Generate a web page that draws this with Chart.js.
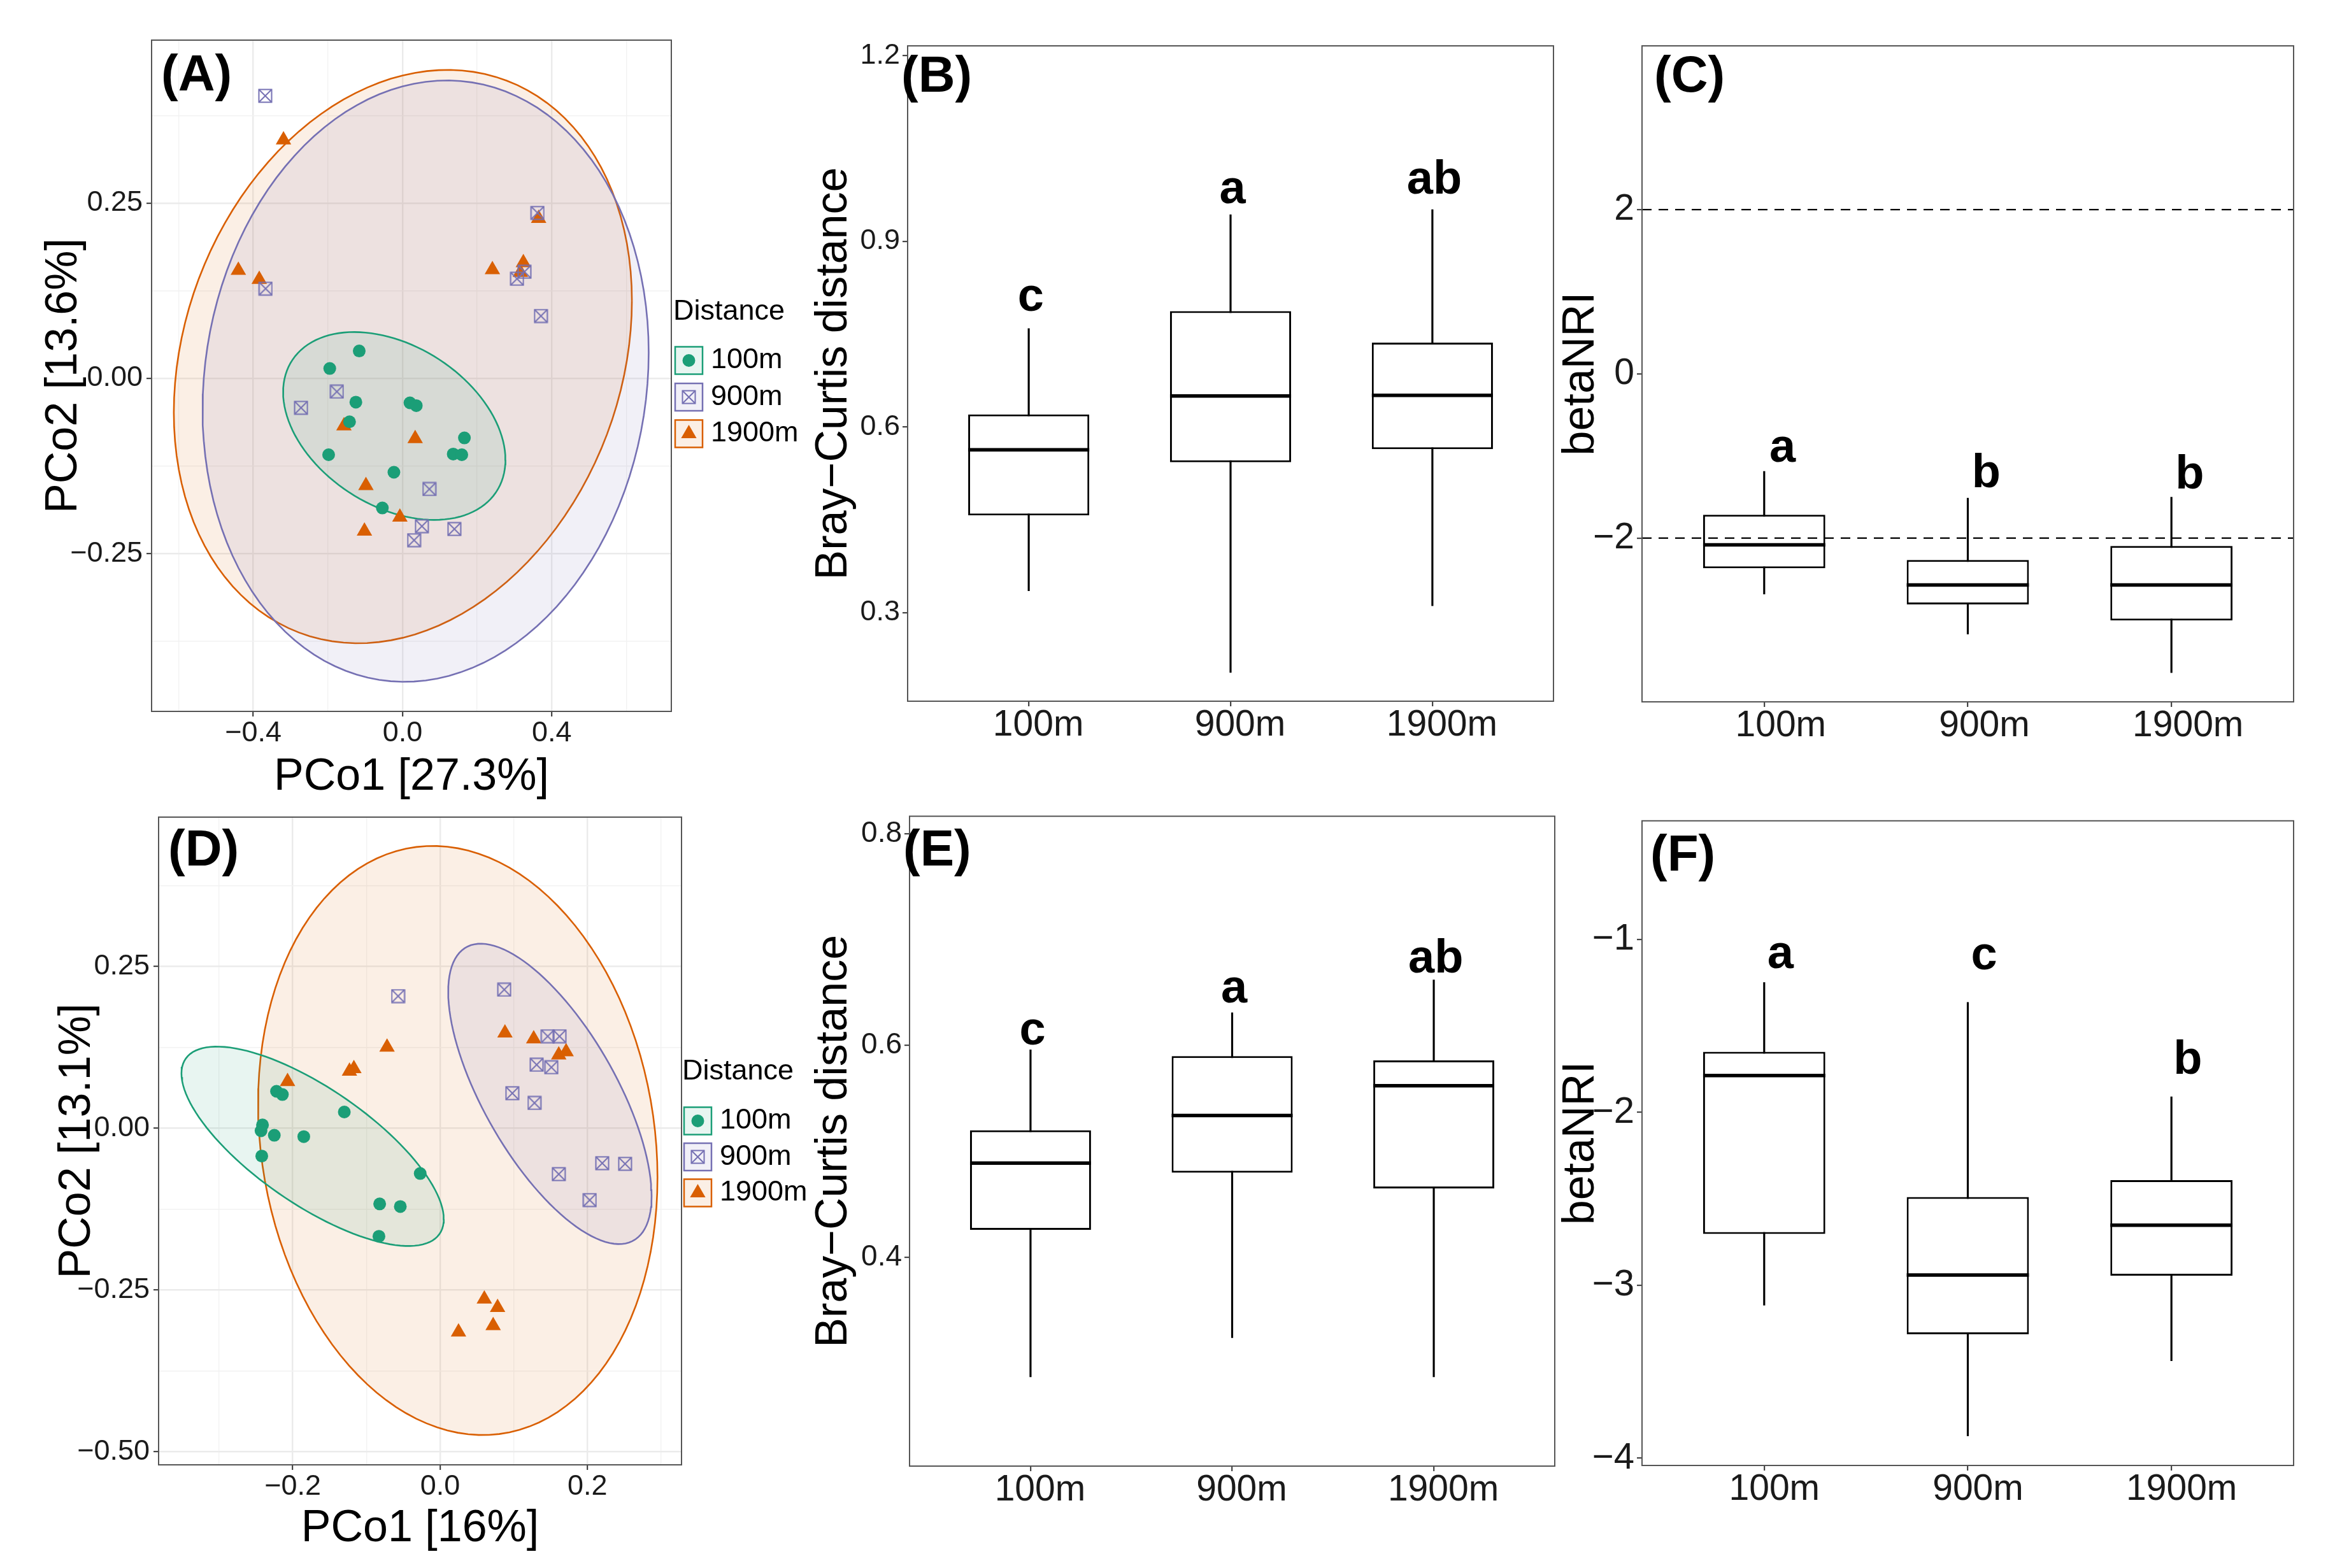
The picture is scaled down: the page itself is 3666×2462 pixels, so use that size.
<!DOCTYPE html>
<html>
<head>
<meta charset="utf-8">
<title>PCoA and beta diversity by distance</title>
<script src="https://cdn.jsdelivr.net/npm/chart.js@4.4.1/dist/chart.umd.min.js"></script>
<style>
  html, body { margin: 0; padding: 0; background: #fff; }
  #fig { position: relative; width: 3666px; height: 2462px; background: #fff; overflow: hidden; }
  #fig canvas { position: absolute; }
</style>
</head>
<body>
<div id="fig">
  <canvas id="panel-a"></canvas>
  <canvas id="panel-d"></canvas>
  <canvas id="panel-b"></canvas>
  <canvas id="panel-c"></canvas>
  <canvas id="panel-e"></canvas>
  <canvas id="panel-f"></canvas>
</div>
<script>
const FONT = '"Liberation Sans", Arial, Helvetica, sans-serif';
const M = '\u2212';

// groups
const groups = ['100m', '900m', '1900m'];
const groupColors = ['#1b9e77', '#7570b3', '#d95f02'];

// ---- (A) PCoA, upper row
const a100x = [-0.116, -0.195, -0.125, -0.142, -0.198, 0.020, 0.037, 0.166, 0.136, 0.159, -0.023, -0.054];
const a100y = [0.039, 0.014, -0.034, -0.062, -0.109, -0.035, -0.039, -0.085, -0.108, -0.109, -0.134, -0.185];
const a900x = [-0.368, -0.367, -0.176, -0.272, 0.362, 0.327, 0.307, 0.371, 0.072, 0.052, 0.139, 0.031];
const a900y = [0.403, 0.128, -0.019, -0.042, 0.236, 0.152, 0.142, 0.089, -0.158, -0.211, -0.215, -0.231];
const a1900x = [-0.319, -0.440, -0.384, 0.365, 0.241, 0.324, 0.316, -0.157, 0.034, -0.098, -0.102, -0.007];
const a1900y = [0.340, 0.154, 0.141, 0.228, 0.155, 0.165, 0.151, -0.068, -0.086, -0.153, -0.218, -0.198];
// ellipse centre, half extents and x/y coupling, per group
const aEllCx = [-0.022, 0.062, 0.001];
const aEllCy = [-0.068, -0.004, 0.031];
const aEllRx = [0.298, 0.598, 0.614];
const aEllRy = [0.134, 0.429, 0.409];
const aEllRho = [-0.36, 0.095, 0.195];
const aXRange = [-0.6726, 0.7207];
const aYRange = [-0.4752, 0.4825];
const aXTicks = [-0.4, 0, 0.4];
const aXLabels = [M + '0.4', '0.0', '0.4'];
const aXMinor = [-0.6, -0.2, 0.2, 0.6];
const aYTicks = [-0.25, 0, 0.25];
const aYLabels = [M + '0.25', '0.00', '0.25'];
const aYMinor = [-0.375, -0.125, 0.125, 0.375];

// ---- (D) PCoA, lower row
const d100x = [-0.222, -0.214, -0.241, -0.243, -0.225, -0.185, -0.242, -0.130, -0.027, -0.082, -0.054, -0.083];
const d100y = [0.057, 0.052, 0.005, -0.004, -0.011, -0.013, -0.043, 0.025, -0.070, -0.117, -0.121, -0.167];
const d900x = [-0.057, 0.087, 0.146, 0.162, 0.131, 0.151, 0.098, 0.128, 0.220, 0.251, 0.161, 0.203];
const d900y = [0.204, 0.214, 0.142, 0.142, 0.098, 0.094, 0.054, 0.039, -0.054, -0.055, -0.071, -0.111];
const d1900x = [-0.207, -0.123, -0.117, -0.072, 0.088, 0.127, 0.161, 0.171, 0.060, 0.078, 0.072, 0.025];
const d1900y = [0.072, 0.088, 0.092, 0.125, 0.147, 0.138, 0.113, 0.118, -0.264, -0.277, -0.305, -0.315];
const dEllCx = [-0.173, 0.149, 0.024];
const dEllCy = [-0.028, 0.053, -0.019];
const dEllRx = [0.178, 0.138, 0.271];
const dEllRy = [0.154, 0.232, 0.455];
const dEllRho = [-0.73, -0.68, -0.125];
const dXRange = [-0.382, 0.3276];
const dYRange = [-0.520, 0.4805];
const dXTicks = [-0.2, 0, 0.2];
const dXLabels = [M + '0.2', '0.0', '0.2'];
const dXMinor = [-0.3, -0.1, 0.1, 0.3];
const dYTicks = [-0.5, -0.25, 0, 0.25];
const dYLabels = [M + '0.50', M + '0.25', '0.00', '0.25'];
const dYMinor = [-0.375, -0.125, 0.125, 0.375];

// ---- (B) Bray-Curtis distance, upper row
const bLow = [0.335, 0.203, 0.311];
const bQ1 = [0.457, 0.543, 0.564];
const bMed = [0.563, 0.650, 0.651];
const bQ3 = [0.620, 0.787, 0.736];
const bHigh = [0.759, 0.943, 0.951];
const bLetters = ['c', 'a', 'ab'];
const bLetterY = [0.788, 0.961, 0.977];
const bYRange = [0.1567, 1.2157];
const bYTicks = [0.3, 0.6, 0.9, 1.2];
const bYLabels = ['0.3', '0.6', '0.9', '1.2'];

// ---- (C) betaNRI, upper row
const cLow = [-2.682, -3.169, -3.638];
const cQ1 = [-2.368, -2.807, -3.003];
const cMed = [-2.083, -2.570, -2.570];
const cQ3 = [-1.715, -2.267, -2.095];
const cHigh = [-1.187, -1.513, -1.501];
const cLetters = ['a', 'b', 'b'];
const cLetterY = [-1.068, -1.383, -1.395];
const cRefLines = [2, -2];
const cYRange = [-3.994, 3.994];
const cYTicks = [-2, 0, 2];
const cYLabels = [M + '2', '0', '2'];

// ---- (E) Bray-Curtis distance, lower row
const eLow = [0.287, 0.324, 0.287];
const eQ1 = [0.426, 0.480, 0.465];
const eMed = [0.489, 0.534, 0.562];
const eQ3 = [0.520, 0.590, 0.586];
const eHigh = [0.596, 0.631, 0.662];
const eLetters = ['c', 'a', 'ab'];
const eLetterY = [0.601, 0.641, 0.669];
const eYRange = [0.2028, 0.8166];
const eYTicks = [0.4, 0.6, 0.8];
const eYLabels = ['0.4', '0.6', '0.8'];

// ---- (F) betaNRI, lower row
const fLow = [-3.115, -3.871, -3.437];
const fQ1 = [-2.703, -3.283, -2.944];
const fMed = [-1.787, -2.941, -2.653];
const fQ3 = [-1.650, -2.490, -2.392];
const fHigh = [-1.249, -1.364, -1.910];
const fLetters = ['a', 'c', 'b'];
const fLetterY = [-1.165, -1.174, -1.776];
const fYRange = [-4.042, -0.314];
const fYTicks = [-4, -3, -2, -1];
const fYLabels = [M + '4', M + '3', M + '2', M + '1'];

// discrete axis: groups at 1..3, ggplot expansion
const boxXRange = [0.4, 3.6];
const BOX_W = 0.6;

const TITLE_SIZE = 70;
const ELLIPSE_STEPS = 120;
const GRID_MAJOR = '#ebebeb';
const GRID_MINOR = '#f2f2f2';

Chart.defaults.font.family = FONT;

function tint(hex, a) {
  const n = parseInt(hex.slice(1), 16);
  return 'rgba(' + (n >> 16) + ',' + ((n >> 8) & 255) + ',' + (n & 255) + ',' + a + ')';
}

// ggplot shape 7: square with a cross
function squareCross(size, color, lw) {
  const c = document.createElement('canvas');
  c.width = size; c.height = size;
  const g = c.getContext('2d');
  g.strokeStyle = color; g.lineWidth = lw;
  const p = lw / 2 + 0.5;
  g.strokeRect(p, p, size - 2 * p, size - 2 * p);
  g.beginPath();
  g.moveTo(p, p); g.lineTo(size - p, size - p);
  g.moveTo(size - p, p); g.lineTo(p, size - p);
  g.stroke();
  return c;
}
const pointStyles = ['circle', squareCross(23, groupColors[1], 2), 'triangle'];
const pointRadii = [10, 11, 14];

function ellipsePoints(cx, cy, rx, ry, rho) {
  const phi = Math.acos(rho);
  const pts = [];
  for (let i = 0; i <= ELLIPSE_STEPS; i++) {
    const t = 2 * Math.PI * i / ELLIPSE_STEPS;
    pts.push({ x: cx + rx * Math.cos(t), y: cy + ry * Math.cos(t - phi) });
  }
  return pts;
}

function placeCanvas(id, box) {
  const c = document.getElementById(id);
  c.width = box.w; c.height = box.h;
  c.style.left = box.x + 'px'; c.style.top = box.y + 'px';
  c.style.width = box.w + 'px'; c.style.height = box.h + 'px';
  return c.getContext('2d');
}

function valueAxis(o) {
  const horizontal = o.position === 'bottom';
  const list = o.majors.map((v, i) => ({ value: v, text: o.labels[i] }))
    .concat((o.minors || []).map(v => ({ value: v, minor: true, text: '' })))
    .sort((p, q) => p.value - q.value);
  return {
    type: 'linear', position: o.position, min: o.min, max: o.max, offset: false, beginAtZero: false,
    afterBuildTicks: s => { s.ticks = list.map(t => ({ value: t.value, minor: t.minor, text: t.text })); },
    afterFit: s => { if (horizontal) s.height = o.size; else s.width = o.size; },
    border: { display: false },
    grid: {
      display: true,
      offset: false,
      drawOnChartArea: !!o.grid,
      drawTicks: true,
      tickLength: 8,
      tickWidth: 2,
      tickColor: c => (c.tick && c.tick.minor) ? 'rgba(0,0,0,0)' : '#333',
      color: c => (c.tick && c.tick.minor) ? GRID_MINOR : GRID_MAJOR,
      lineWidth: c => (c.tick && c.tick.minor) ? 1.4 : 2.4
    },
    ticks: {
      autoSkip: false, maxRotation: 0, minRotation: 0,
      padding: o.tickPad, labelOffset: o.labelShift || 0, color: '#1a1a1a',
      font: { family: FONT, size: o.tickSize },
      callback: (v, i, arr) => arr[i].text
    },
    title: o.title ? {
      display: true, text: o.title, color: '#000',
      font: { family: FONT, size: TITLE_SIZE, lineHeight: 1.2 },
      padding: horizontal ? { top: 0, bottom: o.titlePad } : { top: o.titlePad, bottom: 0 }
    } : { display: false }
  };
}

// plugins
const framePlugin = {
  id: 'frame',
  afterDatasetsDraw(chart) {
    const { ctx, chartArea: a } = chart;
    ctx.save();
    ctx.strokeStyle = '#555';
    ctx.lineWidth = 2;
    ctx.strokeRect(a.left, a.top, a.right - a.left, a.bottom - a.top);
    ctx.restore();
  }
};

const tagPlugin = {
  id: 'panelTag',
  afterDraw(chart, args, o) {
    const { ctx, chartArea: a } = chart;
    ctx.save();
    ctx.font = 'bold 80px ' + FONT;
    ctx.fillStyle = '#000';
    ctx.textAlign = 'left';
    ctx.textBaseline = 'middle';
    ctx.fillText(o.text, a.left + o.dx, a.top + o.dy);
    ctx.restore();
  }
};

const letterPlugin = {
  id: 'sigLetters',
  afterDatasetsDraw(chart, args, o) {
    if (!o.letters) return;
    const { ctx, scales } = chart;
    ctx.save();
    ctx.font = 'bold 74px ' + FONT;
    ctx.fillStyle = '#000';
    ctx.textAlign = 'center';
    ctx.textBaseline = 'alphabetic';
    o.letters.forEach((t, i) => {
      ctx.fillText(t, scales.x.getPixelForValue(i + 1 + o.shift), scales.y.getPixelForValue(o.ys[i]));
    });
    ctx.restore();
  }
};

const legendPlugin = {
  id: 'pcoaLegend',
  afterDraw(chart, args, o) {
    const { ctx, chartArea: a } = chart;
    const x0 = a.right + o.dx;
    const key = 43;
    ctx.save();
    ctx.font = '45px ' + FONT;
    ctx.textAlign = 'left';
    ctx.textBaseline = 'middle';
    ctx.fillStyle = '#000';
    ctx.fillText('Distance', x0, a.top + o.titleDy);
    groups.forEach((g, i) => {
      const cy = a.top + o.rowDy + i * o.rowStep;
      const kx = x0 + 3;
      ctx.fillStyle = tint(groupColors[i], 0.1);
      ctx.fillRect(kx, cy - key / 2, key, key);
      ctx.strokeStyle = groupColors[i];
      ctx.lineWidth = 2.5;
      ctx.strokeRect(kx, cy - key / 2, key, key);
      ctx.fillStyle = groupColors[i];
      Chart.helpers.drawPoint(ctx, { pointStyle: pointStyles[i], radius: pointRadii[i], borderWidth: 0, rotation: 0 }, kx + key / 2, cy);
      ctx.fillStyle = '#000';
      ctx.fillText(g, kx + key + 13, cy);
    });
    ctx.restore();
  }
};

function layoutFor(p) {
  return {
    padding: {
      left: 0,
      top: p.area.t - p.canvas.y,
      right: p.canvas.x + p.canvas.w - p.area.r,
      bottom: 0
    }
  };
}

function pcoaChart(p, xs, ys, ell, ax) {
  const ctx = placeCanvas(p.id, p.canvas);
  const datasets = [];
  groups.forEach((g, i) => {
    datasets.push({
      type: 'line',
      label: g + ' ellipse',
      data: ellipsePoints(ell.cx[i], ell.cy[i], ell.rx[i], ell.ry[i], ell.rho[i]),
      borderColor: groupColors[i],
      borderWidth: 2.6,
      backgroundColor: tint(groupColors[i], 0.1),
      fill: 'shape',
      pointRadius: 0,
      tension: 0,
      order: 8 + i
    });
  });
  groups.forEach((g, i) => {
    datasets.push({
      type: 'scatter',
      label: g,
      data: xs[i].map((x, k) => ({ x: x, y: ys[i][k] })),
      pointStyle: pointStyles[i],
      pointRadius: pointRadii[i],
      pointBackgroundColor: groupColors[i],
      pointBorderColor: groupColors[i],
      pointBorderWidth: 0,
      order: i
    });
  });
  const yBox = p.area.l - p.canvas.x;
  const xBox = p.canvas.y + p.canvas.h - p.area.b;
  return new Chart(ctx, {
    type: 'scatter',
    data: { datasets },
    options: {
      responsive: false, animation: false, devicePixelRatio: 1, events: [],
      layout: layoutFor(p),
      scales: {
        x: valueAxis({ position: 'bottom', min: ax.xRange[0], max: ax.xRange[1], majors: ax.xTicks, labels: ax.xLabels, minors: ax.xMinor,
          size: xBox, tickSize: 45, tickPad: 0, grid: true, title: ax.xTitle,
          titlePad: p.canvas.y + p.canvas.h - p.xTitleY - TITLE_SIZE * 0.6 }),
        y: valueAxis({ position: 'left', min: ax.yRange[0], max: ax.yRange[1], majors: ax.yTicks, labels: ax.yLabels, minors: ax.yMinor,
          size: yBox, tickSize: 45, tickPad: 6, grid: true, title: ax.yTitle,
          titlePad: p.yTitleX - p.canvas.x - TITLE_SIZE * 0.6 })
      },
      plugins: {
        legend: { display: false },
        tooltip: { enabled: false },
        panelTag: { text: p.tag, dx: p.tagDx, dy: p.tagDy },
        pcoaLegend: p.legend
      }
    },
    plugins: [framePlugin, tagPlugin, legendPlugin]
  });
}

function boxChart(p, st, ax) {
  const ctx = placeCanvas(p.id, p.canvas);
  const pos = groups.map((g, i) => i + 1);
  const halfBox = c => {
    const s = c.chart.scales.x;
    return s.getPixelForValue(1 + BOX_W / 2) - s.getPixelForValue(1);
  };
  const datasets = [
    {
      type: 'line', label: 'median',
      data: pos.map((x, i) => ({ x: x, y: st.med[i] })),
      showLine: false, pointStyle: 'line', pointRadius: halfBox,
      pointBorderColor: '#000', pointBorderWidth: 5.5, order: 0
    },
    {
      type: 'bar', label: 'IQR',
      data: pos.map((x, i) => ({ x: x, y: [st.q1[i], st.q3[i]] })),
      backgroundColor: '#fff', borderColor: '#000', borderWidth: 3, borderSkipped: false,
      grouped: false, categoryPercentage: 1, barPercentage: BOX_W, order: 1
    },
    {
      type: 'bar', label: 'whiskers',
      data: pos.map((x, i) => ({ x: x, y: [st.lo[i], st.hi[i]] })),
      backgroundColor: '#000', borderWidth: 0, grouped: false, barThickness: 2.5, order: 2
    }
  ];
  (ax.refLines || []).forEach(v => {
    datasets.push({
      type: 'line', label: 'ref ' + v,
      data: [{ x: boxXRange[0], y: v }, { x: boxXRange[1], y: v }],
      borderColor: '#000', borderWidth: 2.4, borderDash: [15, 11], pointRadius: 0, order: -1
    });
  });
  const yBox = p.area.l - p.canvas.x;
  const xBox = p.canvas.y + p.canvas.h - p.area.b;
  return new Chart(ctx, {
    type: 'bar',
    data: { datasets },
    options: {
      responsive: false, animation: false, devicePixelRatio: 1, events: [],
      layout: layoutFor(p),
      scales: {
        x: valueAxis({ position: 'bottom', min: boxXRange[0], max: boxXRange[1], majors: pos, labels: groups,
          size: xBox, tickSize: 57, tickPad: -4, labelShift: p.labelShift, grid: false }),
        y: valueAxis({ position: 'left', min: ax.yRange[0], max: ax.yRange[1], majors: ax.yTicks, labels: ax.yLabels,
          size: yBox, tickSize: ax.tickSize, tickPad: 4, grid: false, title: ax.yTitle,
          titlePad: p.yTitleX - p.canvas.x - TITLE_SIZE * 0.6 })
      },
      plugins: {
        legend: { display: false },
        tooltip: { enabled: false },
        panelTag: { text: p.tag, dx: p.tagDx, dy: p.tagDy },
        sigLetters: { letters: ax.letters, ys: ax.letterY, shift: p.letterShift }
      }
    },
    plugins: [framePlugin, tagPlugin, letterPlugin]
  });
}

// ---- panels
pcoaChart(
  { id: 'panel-a', canvas: { x: 0, y: 0, w: 1270, h: 1290 }, area: { l: 238, t: 63, r: 1054, b: 1117 },
    yTitleX: 101, xTitleY: 1221, tag: '(A)', tagDx: 15, tagDy: 57,
    legend: { dx: 3, titleDy: 427, rowDy: 503, rowStep: 57.5 } },
  [a100x, a900x, a1900x], [a100y, a900y, a1900y],
  { cx: aEllCx, cy: aEllCy, rx: aEllRx, ry: aEllRy, rho: aEllRho },
  { xRange: aXRange, yRange: aYRange, xTicks: aXTicks, xLabels: aXLabels, xMinor: aXMinor,
    yTicks: aYTicks, yLabels: aYLabels, yMinor: aYMinor, xTitle: 'PCo1 [27.3%]', yTitle: 'PCo2 [13.6%]' }
);

pcoaChart(
  { id: 'panel-d', canvas: { x: 0, y: 1250, w: 1270, h: 1212 }, area: { l: 249, t: 1272, r: 1070, b: 2300 },
    yTitleX: 122, xTitleY: 2401, tag: '(D)', tagDx: 15, tagDy: 54,
    legend: { dx: 1, titleDy: 400, rowDy: 477, rowStep: 56.5 } },
  [d100x, d900x, d1900x], [d100y, d900y, d1900y],
  { cx: dEllCx, cy: dEllCy, rx: dEllRx, ry: dEllRy, rho: dEllRho },
  { xRange: dXRange, yRange: dYRange, xTicks: dXTicks, xLabels: dXLabels, xMinor: dXMinor,
    yTicks: dYTicks, yLabels: dYLabels, yMinor: dYMinor, xTitle: 'PCo1 [16%]', yTitle: 'PCo2 [13.1%]' }
);

boxChart(
  { id: 'panel-b', canvas: { x: 1250, y: 0, w: 1210, h: 1250 }, area: { l: 1425, t: 72, r: 2439, b: 1101 },
    yTitleX: 1310, tag: '(B)', tagDx: -10, tagDy: 50, letterShift: 0.01, labelShift: 15 },
  { lo: bLow, q1: bQ1, med: bMed, q3: bQ3, hi: bHigh },
  { yRange: bYRange, yTicks: bYTicks, yLabels: bYLabels, tickSize: 45, yTitle: 'Bray' + M + 'Curtis distance',
    letters: bLetters, letterY: bLetterY }
);

boxChart(
  { id: 'panel-c', canvas: { x: 2440, y: 0, w: 1226, h: 1250 }, area: { l: 2578, t: 72, r: 3601, b: 1102 },
    yTitleX: 2483, tag: '(C)', tagDx: 19, tagDy: 50, letterShift: 0.09, labelShift: 26 },
  { lo: cLow, q1: cQ1, med: cMed, q3: cQ3, hi: cHigh },
  { yRange: cYRange, yTicks: cYTicks, yLabels: cYLabels, tickSize: 57, yTitle: 'betaNRI',
    letters: cLetters, letterY: cLetterY, refLines: cRefLines }
);

boxChart(
  { id: 'panel-e', canvas: { x: 1250, y: 1250, w: 1210, h: 1212 }, area: { l: 1428, t: 1273, r: 2441, b: 2302 },
    yTitleX: 1310, tag: '(E)', tagDx: -10, tagDy: 55, letterShift: 0.01, labelShift: 15 },
  { lo: eLow, q1: eQ1, med: eMed, q3: eQ3, hi: eHigh },
  { yRange: eYRange, yTicks: eYTicks, yLabels: eYLabels, tickSize: 46, yTitle: 'Bray' + M + 'Curtis distance',
    letters: eLetters, letterY: eLetterY }
);

boxChart(
  { id: 'panel-f', canvas: { x: 2440, y: 1250, w: 1226, h: 1212 }, area: { l: 2578, t: 1272, r: 3601, b: 2301 },
    yTitleX: 2483, tag: '(F)', tagDx: 13, tagDy: 56, letterShift: 0.08, labelShift: 16 },
  { lo: fLow, q1: fQ1, med: fMed, q3: fQ3, hi: fHigh },
  { yRange: fYRange, yTicks: fYTicks, yLabels: fYLabels, tickSize: 58, yTitle: 'betaNRI',
    letters: fLetters, letterY: fLetterY }
);
</script>
</body>
</html>
